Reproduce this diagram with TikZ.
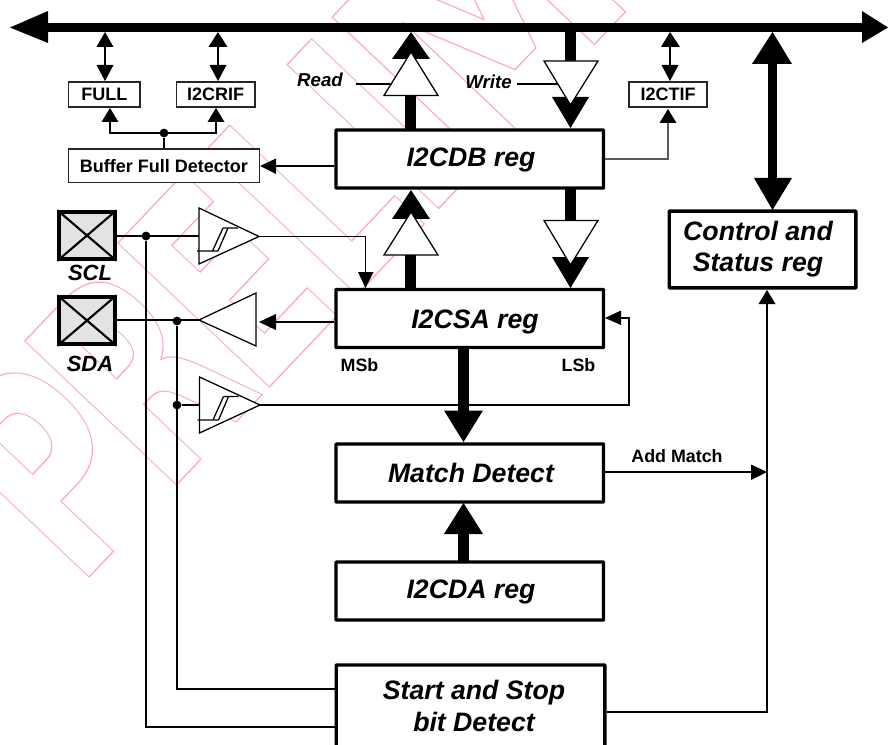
\documentclass[tikz,border=0pt]{standalone}
\usepackage{fontspec}
\setmainfont{Liberation Sans}
\newfontfamily\markfont{DejaVu Sans}
\usetikzlibrary{calc}
\definecolor{wm}{RGB}{255,165,208}
\tikzset{
  x=0.75pt,y=-0.75pt,
  thinline/.style={draw=black,line width=0.95pt},
  regbox/.style={draw=black,fill=white,line width=2.5pt,inner sep=0,rounded corners=0.4pt},
  regtext/.style={inner sep=0,anchor=base,font=\fontsize{20}{20}\selectfont\bfseries\itshape},
  flagbox/.style={draw=black!85,fill=white,line width=1.1pt,inner sep=0,font=\fontsize{13.5}{13.5}\selectfont\bfseries},
  padbox/.style={draw=black,fill=black!11,line width=2.8pt,inner sep=0},
  lab/.style={inner sep=0,font=\fontsize{13.4}{13.4}\selectfont\bfseries},
  ilab/.style={inner sep=0,font=\fontsize{14}{14}\selectfont\bfseries\itshape},
  padlab/.style={inner sep=0,font=\fontsize{16.5}{16.5}\selectfont\bfseries\itshape},
  dot/.style={circle,fill=black,inner sep=0,minimum size=6.6pt},
  gate/.style={draw=black,fill=white,line width=0.95pt,line join=miter},
  markletter/.style={transform shape,anchor=base west,inner sep=0,text=wm,font=\markfont\fontsize{215}{215}\selectfont\bfseries},
}
\newcommand{\markglyph}[3]{\begin{scope}[shift={(#1,0)},xscale=#3]\node[markletter] at (0,0) {\special{pdf:code 1 Tr 1 w}#2\special{pdf:code 0 Tr}};\end{scope}}
\begin{document}
\begin{tikzpicture}
\useasboundingbox (0,0) rectangle (888,745);
% watermark
\begin{scope}[shift={(89,577)},rotate=46.5]
\markglyph{-17.5}{P}{.66}
\markglyph{109.5}{R}{.66}
\markglyph{244.5}{E}{.66}
\markglyph{371.5}{L}{.66}
\markglyph{490.5}{I}{.66}
\markglyph{550}{M}{.885}
\end{scope}
% nodes
\node[regbox,minimum width=200.6pt,minimum height=43.5pt] (cdb) at (469.8,159) {};
\node[regbox,minimum width=200.6pt,minimum height=43.5pt] (csa) at (469.8,318.5) {};
\node[regbox,minimum width=200.6pt,minimum height=43.5pt] (match) at (469.8,473) {};
\node[regbox,minimum width=200.6pt,minimum height=43.5pt] (cda) at (469.8,591) {};
\node[regbox,minimum width=201.5pt,minimum height=63pt] (start) at (470.5,707) {};
\node[regbox,minimum width=140pt,minimum height=57.5pt] (ctl) at (762.5,249.5) {};
\node[regtext] (cdbt) at (471,167) {I2CDB reg};
\node[regtext] (csat) at (475,328) {I2CSA reg};
\node[regtext] (matcht) at (471,482) {Match Detect};
\node[regtext] (cdat) at (471,598) {I2CDA reg};
\node[regtext] (startt) at (474,699.5) {Start and Stop};
\node[regtext] (startb) at (474,731.7) {bit Detect};
\node[regtext] (ctlt) at (758,240.7) {Control and};
\node[regtext] (ctlb) at (758,271.7) {Status reg};
\node[flagbox,minimum width=53.5pt,minimum height=18.7pt] (full) at (104.3,94.5) {FULL};
\node[flagbox,minimum width=58.8pt,minimum height=18.7pt] (rif) at (215.7,94.5) {I2CRIF};
\node[flagbox,minimum width=58.5pt,minimum height=18.7pt] (tif) at (668,94.5) {I2CTIF};
\node[flagbox,minimum width=143.2pt,minimum height=25pt] (bfd) at (164,165.7) {Buffer Full Detector};
\node[padbox,minimum width=41.5pt,minimum height=35pt] (scl) at (87,235.5) {};
\node[padbox,minimum width=41.5pt,minimum height=35pt] (sda) at (87,320.5) {};
\draw[line width=1.6pt] (scl.south west)--(scl.north east) (scl.north west)--(scl.south east);
\draw[line width=1.6pt] (sda.south west)--(sda.north east) (sda.north west)--(sda.south east);
\node[padlab] (scll) at (90,273) {SCL};
\node[padlab] (sdal) at (90,364) {SDA};
\node[lab] (msb) at (359.5,365) {MSb};
\node[lab] (lsb) at (578.5,365) {LSb};
\node[lab] (addm) at (677,456) {Add Match};
\node[ilab] (readl) at (320,80) {Read};
\node[ilab] (writel) at (488.5,82) {Write};
% bus
\coordinate (busL) at (10,27.5);
\coordinate (busR) at (888,27.5);
\draw[line width=6.8pt] (40,27.5) -- (870,27.5);
\fill (busL) -- (48,11) -- (48,43) -- cycle;
\fill (busR) -- (862,11) -- (862,43) -- cycle;
% flag double arrows
\draw[thinline] (105,40)--(105,70);
\fill (105,32)--(113.5,47)--(96.5,47)--cycle (105,81)--(113.5,65)--(96.5,65)--cycle;
\draw[thinline] (218,40)--(218,70);
\fill (218,32)--(227.5,47)--(208.5,47)--cycle (218,81)--(226.5,65)--(209.5,65)--cycle;
\draw[thinline] (670,40)--(670,70);
\fill (670,32)--(680,47)--(661,47)--cycle (670,81)--(678.5,65)--(661.5,65)--cycle;
% detector outputs
\node[dot] (bd) at (164,133) {};
\draw[thinline] (bfd.north -| bd) -- (bd);
\draw[thinline] (110,115) |- (bd.center) -| (216,115);
\fill (110,108)--(118.5,122)--(101.5,122)--cycle (216,108)--(224.5,122)--(207.5,122)--cycle;
% I2CDB -> detector
\draw[thinline] (cdb.west |- 0,166) -- (270,166);
\fill (260,166)--(276,158.5)--(276,174)--cycle;
% I2CDB -> I2CTIF
\draw[draw=black!65,line width=0.95pt] (cdb.east |- 0,159) -| (668,115);
\fill (668,109)--(676.5,123)--(659.5,123)--cycle;
% read path
\draw[line width=8.2pt] (410.5,130) -- (410.5,90);
\fill (411,32)--(430,59)--(392,59)--cycle;
\draw[gate] (411,52)--(438,95.5)--(384,95.5)--cycle;
\draw[thinline] (356,84)--(392,84);
% write path
\draw[line width=8.2pt] (570.5,32) -- (570.5,65);
\fill (570.5,128)--(589,97)--(552,97)--cycle;
\draw[gate] (570.5,105)--(598,61)--(544,61)--cycle;
\draw[thinline] (517,84)--(558,84);
% between I2CSA and I2CDB
\draw[line width=8.2pt] (410.5,289) -- (410.5,250);
\fill (411,190)--(430,219)--(392,219)--cycle;
\draw[gate] (411,212)--(438,255)--(384,255)--cycle;
\draw[line width=8.2pt] (570.5,188) -- (570.5,225);
\fill (570.5,288)--(589,257)--(552,257)--cycle;
\draw[gate] (570.5,265)--(598,220.5)--(544,220.5)--cycle;
% I2CSA -> Match
\draw[line width=8.2pt] (463.5,347) -- (463.5,415);
\fill (463.5,442)--(483,410.5)--(444,410.5)--cycle;
% I2CDA -> Match
\draw[line width=8.2pt] (463.5,562) -- (463.5,530);
\fill (463.5,503)--(483,534)--(444,534)--cycle;
% bus <-> control
\draw[line width=7.4pt] (772.5,60) -- (772.5,185);
\fill (772.5,32)--(792,64)--(752,64)--cycle (772.5,210)--(792,178)--(754,178)--cycle;
% control inputs
\draw[thinline] (start.east |- 0,712) -| (767,298);
\fill (767,290)--(775.5,304)--(758.5,304)--cycle;
\draw[thinline] (match.east |- 0,472) -- (755,472);
\fill (767,472)--(751,464.5)--(751,480)--cycle;
% SCL
\node[dot] (d1) at (146,236) {};
\node[dot] (d2) at (177,321) {};
\node[dot] (d3) at (177,405) {};
\draw[thinline] (d1) |- (start.west |- 0,727);
\draw[thinline] (d2) |- (start.west |- 0,689);
\draw[thinline] (scl.east |- d1) -- (200,236);
\draw[thinline] (sda.east |- 0,320) -- (199,320);
\draw[thinline] (d3) -- (200,405);
\draw[gate] (199,208)--(259,236.5)--(199,264)--cycle;
\draw[thinline] (197,251)--(218,251) (212.5,251)--(223,228) (218,251)--(228,228)--(238,228) (223,228)--(228,228);
\draw[thinline] (259,236.7) -| (365.5,280);
\fill (365.5,288)--(373.5,272)--(358,272)--cycle;
% SDA driver
\draw[gate] (199,320)--(256,293)--(256,346)--cycle;
\draw[thinline] (csa.west |- 0,322) -- (270,322);
\fill (259,322)--(276,314)--(276,330)--cycle;
% SDA receiver
\draw[gate] (199.5,377)--(260,405)--(199.5,433)--cycle;
\draw[thinline] (197.5,420)--(218.5,420) (213,420)--(223.5,396.5) (218.5,420)--(228.5,396.5)--(238.5,396.5) (223.5,396.5)--(228.5,396.5);
\draw[thinline] (260,405) -| (629,318) -- (615,318);
\fill (605,318)--(621,310.5)--(621,325)--cycle;
\end{tikzpicture}
\end{document}
